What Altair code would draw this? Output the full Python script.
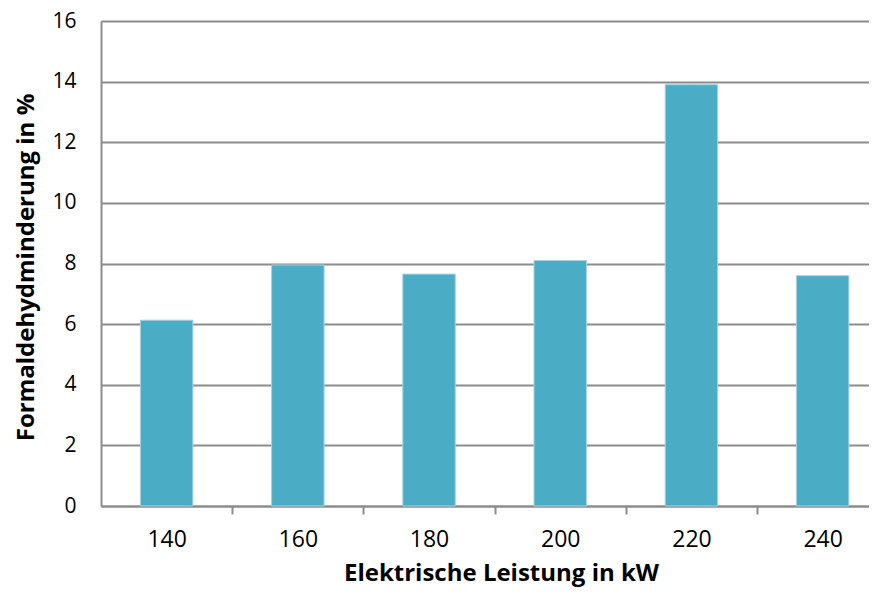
import altair as alt
import pandas as pd

categories = ["140", "160", "180", "200", "220", "240"]
values = [6.13, 7.95, 7.65, 8.1, 13.9, 7.6]

df = pd.DataFrame({"leistung": categories, "minderung": values})

font = "Open Sans"
step = 131.2

chart = alt.Chart(df).mark_bar(
    color="#4BACC6", stroke="#A5D3E2", strokeWidth=1
).encode(
    x=alt.X(
        "leistung:N",
        sort=categories,
        title="Elektrische Leistung in kW",
        scale=alt.Scale(paddingInner=0.6, paddingOuter=0.2268, align=0.662),
        axis=alt.Axis(
            labelAngle=0, domainColor="#8C8C8C",
            domainWidth=2, tickColor="#8C8C8C", tickWidth=2, tickSize=8,
            tickOffset=step / 2, labelOffset=-step / 2,
            labelFontSize=23, labelColor="#000000", labelFont=font,
            labelPadding=14, titleFont=font, titleFontSize=24,
            titleFontWeight="bold", titleColor="#000000", titlePadding=10,
            titleX=400, titleAlign="center",
        ),
    ),
    y=alt.Y(
        "minderung:Q",
        title="Formaldehydminderung in %",
        scale=alt.Scale(domain=[0, 16], nice=False),
        axis=alt.Axis(
            values=[0, 2, 4, 6, 8, 10, 12, 14, 16], format="d",
            grid=True, gridColor="#8C8C8C", gridWidth=2,
            domainColor="#8C8C8C", domainWidth=2, ticks=False,
            labelFontSize=21, labelColor="#000000", labelFont=font,
            labelPadding=25, titleFont=font, titleFontSize=24,
            titleFontWeight="bold", titleColor="#000000", titlePadding=13,
            titleY=246, titleAlign="center",
        ),
    ),
).properties(
    width=768,
    height=485,
    autosize=alt.AutoSizeParams(type="none"),
    padding={"left": 93, "top": 13, "right": 0, "bottom": 83},
).configure_view(stroke=None)

chart.save("out.html", embed_options={"renderer": "svg", "actions": False})
